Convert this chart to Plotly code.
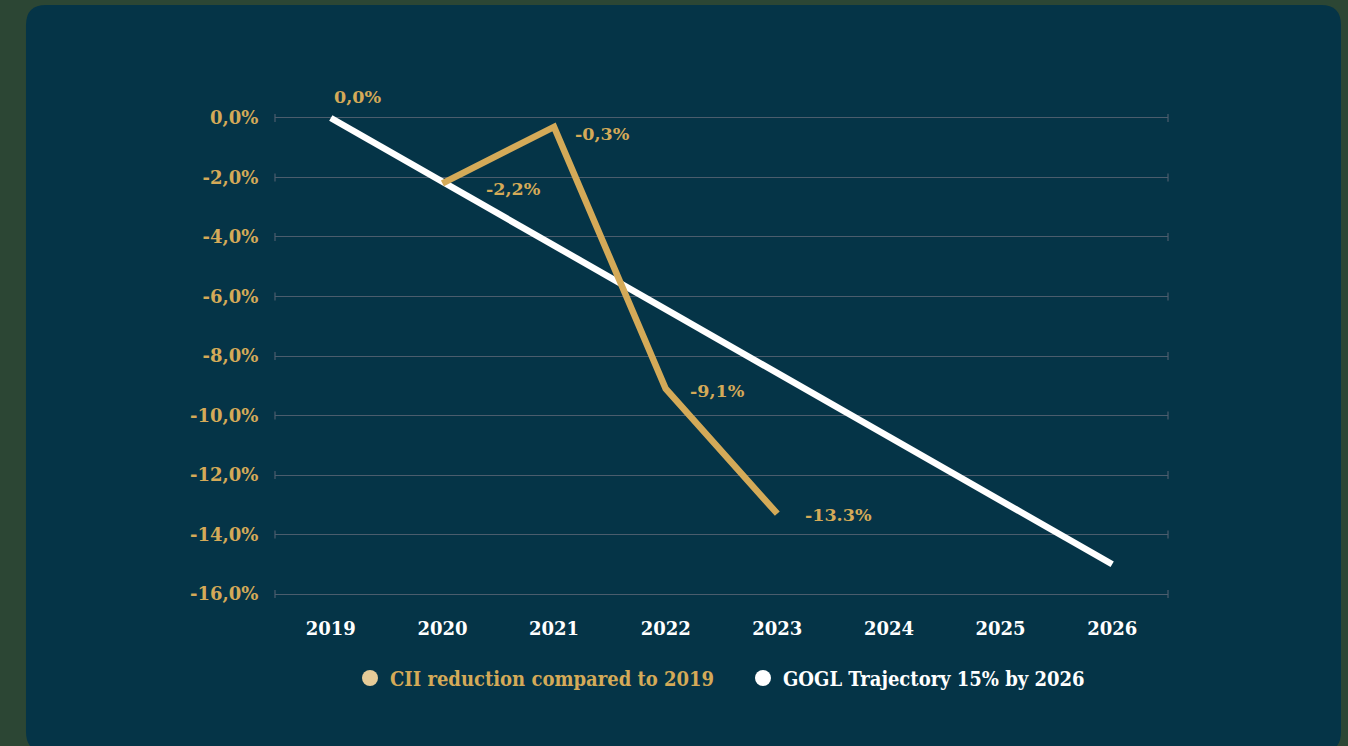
import plotly.graph_objects as go

# ---- data ----
years = ["2019", "2020", "2021", "2022", "2023", "2024", "2025", "2026"]
cii_years = ["2020", "2021", "2022", "2023"]
cii_values = [-2.2, -0.3, -9.1, -13.3]
cii_labels = ["-2,2%", "-0,3%", "-9,1%", "-13.3%"]
traj_years = ["2019", "2026"]
traj_values = [0.0, -15.0]
start_label = "0,0%"
y_tickvals = [0, -2, -4, -6, -8, -10, -12, -14, -16]
y_ticktext = ["0,0%", "-2,0%", "-4,0%", "-6,0%", "-8,0%", "-10,0%", "-12,0%", "-14,0%", "-16,0%"]
name_cii = "CII reduction compared to 2019"
name_traj = "GOGL Trajectory 15% by 2026"

# ---- style ----
W, H = 1348, 746
L, R, T, B = 275, 1168, 112, 600
PANEL = "#053447"
BG = "#2c4634"
GOLD = "#d4aa58"
GOLD_LIGHT = "#e6cb98"
WHITE = "#ffffff"
GRID = "#4b5d6d"
SERIF = "DejaVu Serif"
SERIF_C = "DejaVu Serif Condensed, DejaVu Serif"

def px_x(p):
    return (p - L) / (R - L)

def px_y(p):
    return (B - p) / (B - T)

fig = go.Figure()

fig.add_trace(go.Scatter(
    x=traj_years, y=traj_values, mode="lines",
    line=dict(color=WHITE, width=6.5), showlegend=False, hoverinfo="skip"))
fig.add_trace(go.Scatter(
    x=cii_years, y=cii_values, mode="lines",
    line=dict(color=GOLD, width=6.5), showlegend=False, hoverinfo="skip"))

# legend-only marker traces
fig.add_trace(go.Scatter(
    x=[None], y=[None], mode="markers", name=name_cii,
    marker=dict(color=GOLD_LIGHT, size=20, symbol="circle")))
fig.add_trace(go.Scatter(
    x=[None], y=[None], mode="markers",
    name='<span style="color:#ffffff">' + name_traj + '</span>',
    marker=dict(color=WHITE, size=20, symbol="circle")))

# data labels
ann = [dict(x=years.index(traj_years[0]), y=traj_values[0], text=start_label,
            xanchor="left", yanchor="middle", xshift=1, yshift=21, showarrow=False)]
shifts = {"2020": (42, -6), "2021": (19, -7), "2022": (22, -2), "2023": (26, -1)}
for yr, v, t in zip(cii_years, cii_values, cii_labels):
    dx, dy = shifts[yr]
    ann.append(dict(x=years.index(yr), y=v, text=t, xanchor="left", yanchor="middle",
                    xshift=dx, yshift=dy, showarrow=False))
for a in ann:
    a["xref"] = "x"
    a["yref"] = "y"
    a["font"] = dict(family=SERIF, size=17.5, color=GOLD, weight="bold")

shapes = []
# background panel with rounded corners (pixel -> paper coords)
x0, x1, y0, y1, r = 26, 1341, 5, 752, 20
def P(px, py):
    return f"{px_x(px):.5f},{px_y(py):.5f}"
path = (f"M {P(x0 + r, y0)} L {P(x1 - r, y0)} Q {P(x1, y0)} {P(x1, y0 + r)} "
        f"L {P(x1, y1 - r)} Q {P(x1, y1)} {P(x1 - r, y1)} L {P(x0 + r, y1)} "
        f"Q {P(x0, y1)} {P(x0, y1 - r)} L {P(x0, y0 + r)} Q {P(x0, y0)} {P(x0 + r, y0)} Z")
shapes.append(dict(type="path", xref="paper", yref="paper", path=path,
                   fillcolor=PANEL, line=dict(width=0), layer="below"))
# end caps on gridlines
for v in y_tickvals:
    for xp in (0, 1):
        shapes.append(dict(type="line", xref="paper", yref="y", x0=xp, x1=xp,
                           ysizemode="pixel", yanchor=v, y0=-4, y1=4,
                           line=dict(color=GRID, width=1.2), layer="below"))

fig.update_layout(
    width=W, height=H,
    margin=dict(l=L, r=W - R, t=T, b=H - B, pad=0),
    paper_bgcolor=BG, plot_bgcolor="rgba(0,0,0,0)",
    showlegend=True,
    legend=dict(orientation="h", x=px_x(350), xanchor="left", y=px_y(678), yanchor="middle",
                font=dict(family=SERIF_C, size=20, color=GOLD, weight="bold"),
                itemsizing="trace", itemwidth=30, tracegroupgap=0,
                entrywidth=348, entrywidthmode="pixels",
                bgcolor="rgba(0,0,0,0)"),
    xaxis=dict(type="category", categoryorder="array", categoryarray=years,
               tickvals=years, range=[-0.5, 7.5], showgrid=False, zeroline=False,
               showline=False, ticks="outside", ticklen=12, tickcolor="rgba(0,0,0,0)",
               tickfont=dict(family=SERIF, size=18, color=WHITE, weight="bold"),
               fixedrange=True),
    yaxis=dict(range=[-16.2, 0.2], tickvals=y_tickvals, ticktext=y_ticktext,
               showgrid=True, gridcolor=GRID, gridwidth=1, zeroline=False,
               showline=False, ticks="outside", ticklen=12, tickcolor="rgba(0,0,0,0)",
               tickfont=dict(family=SERIF, size=18, color=GOLD, weight="bold"),
               fixedrange=True),
    annotations=ann, shapes=shapes,
    hovermode=False,
)

fig.write_html("out.html", config={"displayModeBar": False})
